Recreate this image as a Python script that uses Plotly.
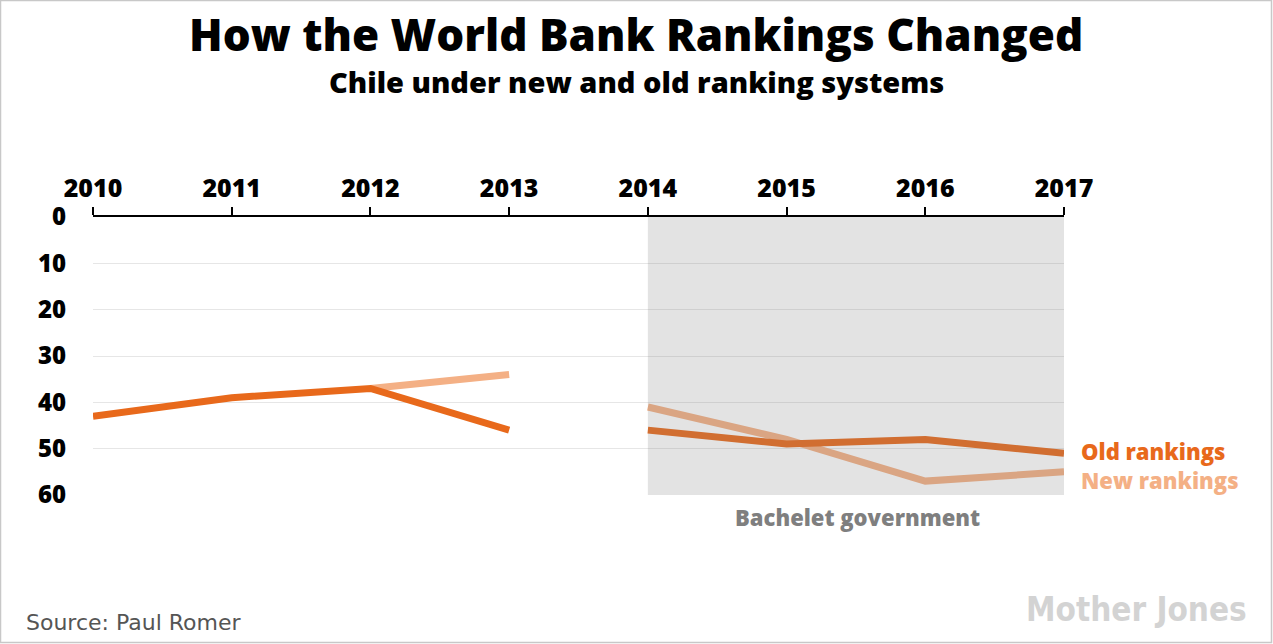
import plotly.graph_objects as go

years = [2010, 2011, 2012, 2013, 2014, 2015, 2016, 2017]
old_rank = [43, 39, 37, 46, None, None, None, None]
old_rank_b = [None, None, None, None, 46, 49, 48, 51]
new_rank = [None, None, 37, 34, None, None, None, None]
new_rank_b = [None, None, None, None, 41, 48, 57, 55]
y_ticks = [0, 10, 20, 30, 40, 50, 60]
shade_start, shade_end = 2014, 2017

OLD_C = "#e8691b"
NEW_C = "#f4b085"

W, H = 1273, 644
L, R, T, B = 93, 1064, 217, 495

def xp(px):
    return (px - L) / (R - L)

def yp(py):
    return (B - py) / (B - T)

fig = go.Figure()
fig.add_trace(go.Scatter(x=years, y=new_rank, mode="lines", line=dict(color=NEW_C, width=7),
                         hoverinfo="skip", showlegend=False))
fig.add_trace(go.Scatter(x=years, y=new_rank_b, mode="lines", line=dict(color=NEW_C, width=7),
                         hoverinfo="skip", showlegend=False))
fig.add_trace(go.Scatter(x=years, y=old_rank, mode="lines", line=dict(color=OLD_C, width=7),
                         hoverinfo="skip", showlegend=False))
fig.add_trace(go.Scatter(x=years, y=old_rank_b, mode="lines", line=dict(color=OLD_C, width=7),
                         hoverinfo="skip", showlegend=False))

fig.add_shape(type="rect", xref="x", yref="y", x0=shade_start, x1=shade_end, y0=0, y1=60,
              fillcolor="rgba(128,128,128,0.22)", line=dict(width=0), layer="above")

fig.add_shape(type="rect", xref="paper", yref="paper",
              x0=xp(0.5), x1=xp(W - 1.5), y0=yp(H - 1.5), y1=yp(0.5),
              line=dict(color="#c8c8c8", width=1.5), fillcolor="rgba(0,0,0,0)", layer="above")

HEAD = "Open Sans"

def ann(text, x, y, size, color, xanchor="center", family=HEAD, weight=800):
    fig.add_annotation(text=text, xref="paper", yref="paper", x=xp(x), y=yp(y),
                       xanchor=xanchor, yanchor="middle", showarrow=False,
                       font=dict(family=family, size=size, color=color, weight=weight))

ann("How the World Bank Rankings Changed", 636, 34, 44, "#000000")
ann("Chile under new and old ranking systems", 636, 82, 29, "#000000")
ann("Old rankings", 1079, 451, 22, OLD_C, xanchor="left")
ann("New rankings", 1079, 480, 22, NEW_C, xanchor="left")
ann("Bachelet government", 857, 517, 22, "#7f7f7f")
ann("Source: Paul Romer", 24, 622, 22, "#555555", xanchor="left", family="DejaVu Sans", weight="normal")
ann("Mother Jones", 1136, 609, 33, "#d3d3d3", family="DejaVu Sans Condensed", weight="bold")

fig.update_layout(
    width=W, height=H,
    margin=dict(l=L, r=W - R, t=T, b=H - B),
    paper_bgcolor="white", plot_bgcolor="white",
    xaxis=dict(range=[2010, 2017], side="top", tickvals=years, ticktext=[str(y) for y in years],
               showgrid=False, zeroline=False, showline=True, linecolor="#000000", linewidth=1.5,
               ticks="outside", ticklen=8, tickcolor="#000000", tickwidth=1.5,
               tickfont=dict(family=HEAD, size=25, color="#000000", weight=800)),
    yaxis=dict(range=[60, 0], tickvals=y_ticks, showgrid=True, gridcolor="#e6e6e6", gridwidth=1,
               zeroline=False, showline=False, ticks="", ticklabelstandoff=26,
               tickfont=dict(family=HEAD, size=24, color="#000000", weight=800)),
)

fig.write_html("out.html", config={"displayModeBar": False},
               post_script="document.body.style.margin='0';document.body.style.overflow='hidden';")
